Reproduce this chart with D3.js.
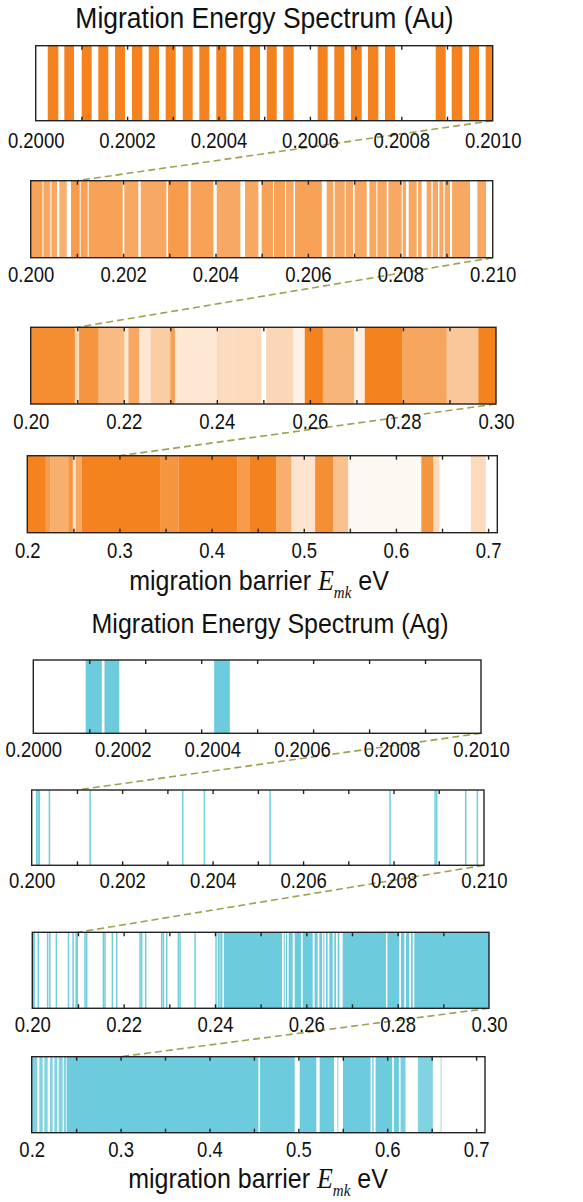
<!DOCTYPE html>
<html><head><meta charset="utf-8">
<script src="https://cdn.jsdelivr.net/npm/d3@7"></script>
<style>
body{margin:0;background:#fff}
svg{display:block}
text{font-family:"Liberation Sans",Arial,sans-serif;fill:#111}
</style>
</head><body>
<svg id="c" width="583" height="1202"></svg>
<script>
// ---------------- DATA (eV) ----------------
// Au, window 0.2000–0.2010 : occupied barrier intervals
const auSpans1 = [
 [0.2000263,0.2000495],[0.2000626,0.2000838],[0.2001007,0.2001225],[0.2001370,0.2001589],
 [0.2001735,0.2001954],[0.2002107,0.2002333],[0.2002473,0.2002698],[0.2002845,0.2003063],
 [0.2003217,0.2003435],[0.2003580,0.2003799],[0.2003952,0.2004171],[0.2004324,0.2004543],
 [0.2004683,0.2004908],[0.2005055,0.2005274],[0.2005418,0.2005646],[0.2006171,0.2006389],
 [0.2006534,0.2006753],[0.2006899,0.2007133],[0.2007271,0.2007497],[0.2007643,0.2007862],
 [0.2008753,0.2008972],[0.2009103,0.2009335],[0.2009481,0.2009700],[0.2009847,0.2010000]];
// Au, window 0.200–0.210 : [start, end, line density]
const auSpans2 = [
 [0.200000,0.200253,0.75],[0.200274,0.200426,0.7],[0.200447,0.200570,0.7],[0.200620,0.200779,0.65],
 [0.200873,0.201061,0.8],[0.201082,0.201234,0.75],[0.201255,0.201991,0.75],[0.202027,0.202330,0.7],
 [0.202381,0.202937,0.7],[0.202973,0.203413,0.8],[0.203463,0.203954,0.75],[0.204026,0.204538,0.7],
 [0.204639,0.204928,0.7],[0.205000,0.205245,0.75],[0.205267,0.205505,0.75],[0.205527,0.205693,0.7],
 [0.205722,0.206299,0.75],[0.206407,0.206551,0.7],[0.206580,0.206797,0.7],[0.206818,0.206977,0.7],
 [0.207013,0.207273,0.7],[0.207331,0.207482,0.7],[0.207504,0.207706,0.7],[0.207742,0.208030,0.7],
 [0.208052,0.208124,0.7],[0.208182,0.208355,0.7],[0.208384,0.208463,0.7],[0.208571,0.208672,0.7],
 [0.208701,0.208817,0.7],[0.208846,0.208932,0.7],[0.208961,0.209076,0.7],[0.209120,0.209509,0.7],
 [0.209668,0.209856,0.7]];
// Au, window 0.20–0.30 : [start, end, line density]
const auSpans3 = [
 [0.2000,0.2095,0.92],[0.2095,0.2104,0.3],[0.2104,0.2146,0.85],[0.2146,0.2201,0.55],
 [0.2201,0.2210,0.2],[0.2210,0.2233,0.7],[0.2233,0.2258,0.2],[0.2258,0.2300,0.4],
 [0.2300,0.2310,0.75],[0.2310,0.2400,0.2],[0.2400,0.2438,0.28],[0.2438,0.2496,0.3],
 [0.2506,0.2564,0.32],[0.2564,0.2589,0.1],[0.2589,0.2628,1],[0.2628,0.2695,0.6],
 [0.2695,0.2718,0.12],[0.2718,0.2799,1],[0.2799,0.2894,0.72],[0.2894,0.2962,0.45],
 [0.2962,0.3000,1]];
// Au, window 0.2–0.71 : [start, end, line density]
const auSpans4 = [
 [0.2,0.2201,1],[0.2201,0.2250,0.8],[0.2250,0.2445,0.65],[0.2445,0.2494,0.85],
 [0.2494,0.2526,0.25],[0.2526,0.2591,0.7],[0.2591,0.3448,1],[0.3448,0.3643,0.85],
 [0.3643,0.4279,1],[0.4279,0.4409,0.8],[0.4409,0.4700,1],[0.4700,0.4864,0.65],
 [0.4864,0.5123,0.22],[0.5123,0.5318,0.9],[0.5318,0.5481,0.5],[0.5481,0.6276,0.06],
 [0.6276,0.6406,0.85],[0.6406,0.6471,0.3],[0.6812,0.6975,0.3]];

// Ag, window 0.2000–0.2010
const agSpans5 = [[0.200117,0.200153],[0.200159,0.200192],[0.200404,0.200439]];
// Ag, window 0.200–0.210 : single barrier lines
const agLines6 = [0.200111,0.200140,0.200169,0.200391,0.201290,0.203338,0.203817,
 0.205269,0.207922,0.208917,0.208954,0.209595,0.209853];
// Ag, window 0.20–0.30 : isolated lines + dense intervals
const agLines7 = [0.20011,0.20015,0.20039,0.20129,0.20334,0.20382,0.20527,0.20792,0.20892,
 0.20960,0.20985,0.21153,0.21190,0.21555,0.21591,0.21752,0.21847,0.22358,0.22394,0.22482,
 0.22832,0.22869,0.22942,0.23197,0.23234,0.23562,0.24022,0.24073,0.24110,0.24146];
const agSpans7 = [
 [0.24197,0.25467],[0.25504,0.25518],[0.25555,0.25569],[0.25613,0.25701],[0.25745,0.25883],
 [0.25920,0.26139],[0.26182,0.26248],[0.26285,0.26343],[0.26372,0.26394],[0.26431,0.26467],
 [0.26504,0.26577],[0.26613,0.26650],[0.26686,0.26723],[0.26796,0.27745],[0.27774,0.28036],
 [0.28073,0.28146],[0.28182,0.28255],[0.28292,0.28328],[0.28365,0.30000]];
// Ag, window 0.2–0.71 : [start, end, line density]
const agSpans8 = [
 [0.2,0.20637,0.85],[0.20861,0.21236,0.85],[0.21423,0.21798,0.85],[0.22060,0.22360,0.85],
 [0.22547,0.22884,0.85],[0.23034,0.23483,0.85],[0.23633,0.23858,0.85],[0.23933,0.45506,1],
 [0.45693,0.49588,1],[0.50150,0.52022,1],[0.52397,0.54007,1],[0.54382,0.54494,0.8],
 [0.55019,0.58127,1],[0.58315,0.58464,1],[0.58689,0.60562,1],[0.60749,0.61311,1],
 [0.61498,0.62060,0.9],[0.63446,0.65131,0.85],[0.65993,0.66142,0.5]];

// tick labels
const labelsA = ["0.2000","0.2002","0.2004","0.2006","0.2008","0.2010"];
const labelsB = ["0.200","0.202","0.204","0.206","0.208","0.210"];
const labelsC = ["0.20","0.22","0.24","0.26","0.28","0.30"];
const labelsD = ["0.2","0.3","0.4","0.5","0.6","0.7"];
// tick marks
const marksA  = [0.2001,0.2002,0.2003,0.2004,0.2005,0.2006,0.2007,0.2008,0.2009];
const marksA8 = [0.200125,0.20025,0.200375,0.2005,0.200625,0.20075,0.200875];
const marksB  = [0.201,0.202,0.203,0.204,0.205,0.206,0.207,0.208,0.209];
const marksC  = [0.21,0.22,0.23,0.24,0.25,0.26,0.27,0.28,0.29];
const marksD  = [0.25,0.3,0.35,0.4,0.45,0.5,0.55,0.6,0.65,0.7];

const titles = ["Migration Energy Spectrum (Au)","Migration Energy Spectrum (Ag)"];

// ---------------- LAYOUT ----------------
const AU = "#F4831F", AG = "#6CCBDC";
const svg = d3.select("#c");

const panels = [
 {x0:35.7,x1:492.7,y0:45.7, y1:120.7, dom:[0.2,0.201], col:AU, spans:auSpans1, labels:labelsA, marks:marksA, lb:148},
 {x0:30.7,x1:492.7,y0:180.7,y1:257.7, dom:[0.2,0.21],  col:AU, spans:auSpans2, labels:labelsB, marks:marksB, lb:281.7},
 {x0:30.7,x1:496,  y0:327.3,y1:404,   dom:[0.2,0.3],   col:AU, spans:auSpans3, labels:labelsC, marks:marksC, lb:429},
 {x0:27.3,x1:497.3,y0:455.7,y1:532.7, dom:[0.2,0.71],  col:AU, spans:auSpans4, labels:labelsD, marks:marksD, lb:558},
 {x0:33.3,x1:481,  y0:660,  y1:733.3, dom:[0.2,0.201], col:AG, spans:agSpans5, labels:labelsA, marks:marksA8, lb:757},
 {x0:31.7,x1:484,  y0:790,  y1:865.3, dom:[0.2,0.21],  col:AG, lines:agLines6, labels:labelsB, marks:marksB, lb:888},
 {x0:32.3,x1:489,  y0:932.3,y1:1008.3,dom:[0.2,0.3],   col:AG, spans:agSpans7, lines:agLines7, labels:labelsC, marks:marksC, lb:1032},
 {x0:31.7,x1:485,  y0:1056.7,y1:1132.7,dom:[0.2,0.71], col:AG, spans:agSpans8, labels:labelsD, marks:marksD, lb:1157}
];
panels.forEach(p => p.x = d3.scaleLinear().domain(p.dom).range([p.x0, p.x1]));

// connector dashed lines
const conn = svg.append("g");
panels.forEach((p,i) => {
  if (i===3 || i===7) return;
  const q = panels[i+1];
  conn.append("line")
    .attr("x1", p.x1).attr("y1", p.y1)
    .attr("x2", q.x(p.dom[1])).attr("y2", q.y0)
    .attr("stroke","#9EA052").attr("stroke-width",1.6)
    .attr("stroke-dasharray","7,4");
});

panels.forEach(p => {
  const g = svg.append("g");
  const h = p.y1 - p.y0;
  if (p.spans) {
    g.selectAll("rect.s").data(p.spans).join("rect").attr("class","s")
      .attr("x", d => p.x(d[0]))
      .attr("width", d => Math.max(1, p.x(Math.min(d[1],p.dom[1])) - p.x(d[0])))
      .attr("y", p.y0).attr("height", h)
      .attr("fill", p.col)
      .attr("fill-opacity", d => d.length > 2 ? d[2] : 1);
  }
  if (p.lines) {
    g.selectAll("rect.l").data(p.lines).join("rect").attr("class","l")
      .attr("x", d => p.x(d) - 0.7)
      .attr("width", 1.5)
      .attr("y", p.y0).attr("height", h)
      .attr("fill", p.col)
      .attr("fill-opacity", 0.95);
  }
  // frame
  g.append("rect").attr("x",p.x0).attr("y",p.y0).attr("width",p.x1-p.x0).attr("height",h)
    .attr("fill","none").attr("stroke","#222").attr("stroke-width",1.4);
  // inward ticks bottom & top
  g.append("g").attr("transform",`translate(0,${p.y1})`)
    .call(d3.axisBottom(p.x).tickValues(p.marks).tickSize(-4).tickFormat(""))
    .call(a => a.select(".domain").remove())
    .selectAll("line").attr("stroke","#222").attr("stroke-width",1.4);
  g.append("g").attr("transform",`translate(0,${p.y0})`)
    .call(d3.axisTop(p.x).tickValues(p.marks).tickSize(-4).tickFormat(""))
    .call(a => a.select(".domain").remove())
    .selectAll("line").attr("stroke","#222").attr("stroke-width",1.4);
  // labels
  const lab = g.append("g").attr("transform",`translate(0,${p.y1})`)
    .call(d3.axisBottom(p.x).tickValues(p.labels.map(Number)).tickSize(0)
      .tickFormat((d,i) => p.labels[i]));
  lab.select(".domain").remove();
  lab.selectAll("text")
    .attr("y",0).attr("dy",0)
    .attr("transform",`translate(0,${p.lb - p.y1}) scale(1,1.2)`)
    .style("font-size","18.5px").style("font-family","'Liberation Sans',Arial,sans-serif")
    .attr("fill","#111");
});

// titles
[[264.5,28,titles[0],26.5],[270,633,titles[1],25]].forEach(t => {
  svg.append("text").attr("text-anchor","middle")
    .attr("transform",`translate(${t[0]},${t[1]}) scale(1,1.12)`)
    .style("font-size",t[3]+"px").text(t[2]);
});

// axis labels
[[259,590],[258,1188]].forEach(t => {
  const tx = svg.append("text").attr("text-anchor","middle")
    .attr("transform",`translate(${t[0]},${t[1]}) scale(1,1.1)`)
    .style("font-size","25px");
  tx.append("tspan").text("migration barrier ");
  tx.append("tspan").text("E").style("font-family","'Liberation Serif','Times New Roman',serif").style("font-style","italic").style("font-size","26px");
  tx.append("tspan").text("mk").style("font-family","'Liberation Serif','Times New Roman',serif").style("font-style","italic").style("font-size","15px").attr("dy",7);
  tx.append("tspan").text(" eV").attr("dy",-7);
});
</script>
</body></html>
